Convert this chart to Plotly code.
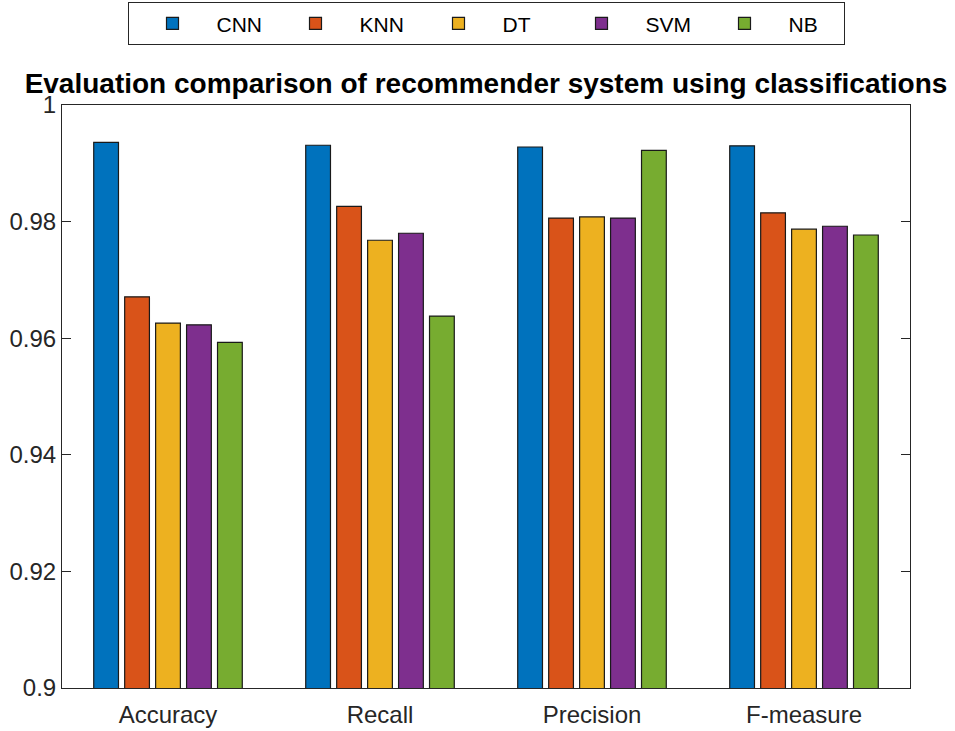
import plotly.graph_objects as go

categories = ["Accuracy", "Recall", "Precision", "F-measure"]
series_names = ["CNN", "KNN", "DT", "SVM", "NB"]
cnn = [0.9936, 0.9931, 0.9928, 0.9930]
knn = [0.9671, 0.9826, 0.9806, 0.9815]
dt = [0.9626, 0.9768, 0.9808, 0.9787]
svm = [0.9623, 0.9780, 0.9806, 0.9792]
nb = [0.9593, 0.9638, 0.9922, 0.9777]
colors = ["#0072BD", "#D95319", "#EDB120", "#7E2F8E", "#77AC30"]
ytick_vals = [0.9, 0.92, 0.94, 0.96, 0.98, 1.0]
ytick_text = ["0.9", "0.92", "0.94", "0.96", "0.98", "1"]

fig = go.Figure()
for name, vals, col in zip(series_names, [cnn, knn, dt, svm, nb], colors):
    fig.add_trace(go.Bar(
        x=categories, y=vals, name=name,
        marker=dict(color=col, line=dict(color="#1a1a1a", width=1.2)),
    ))

font = "Liberation Sans, Arial, sans-serif"
fig.update_layout(
    width=955, height=731,
    barmode="group", bargap=0.27, bargroupgap=0.2,
    plot_bgcolor="white", paper_bgcolor="white",
    margin=dict(l=62, r=45, t=105, b=43, autoexpand=False),
    font=dict(family=font, size=22, color="#262626"),
    title=dict(text="<b>Evaluation comparison of recommender system using classifications</b>",
               x=0.5, xanchor="center", xref="paper", y=0.886, yanchor="middle",
               font=dict(family=font, size=28, color="black")),
    legend=dict(orientation="h", x=0.5, xanchor="center", yref="container",
                y=0.997, yanchor="top",
                bordercolor="#262626", borderwidth=1, bgcolor="white",
                font=dict(family=font, size=21, color="black"),
                itemwidth=78, entrywidth=50, traceorder="normal"),
    xaxis=dict(range=[-0.5, 3.5], showline=True, mirror=True, linecolor="#262626",
               linewidth=1, ticks="", automargin=False, ticklabelstandoff=5,
               tickfont=dict(size=24, color="#262626")),
    yaxis=dict(range=[0.9, 1.0], tickvals=ytick_vals, ticktext=ytick_text,
               showline=True, mirror="ticks", linecolor="#262626", linewidth=1,
               ticks="inside", ticklen=9, tickcolor="#262626", showgrid=False,
               zeroline=False, automargin=False,
               tickfont=dict(size=24, color="#262626")),
)
fig.write_html("out.html", config={"displayModeBar": False},
               post_script="document.body.style.margin='0px';")
